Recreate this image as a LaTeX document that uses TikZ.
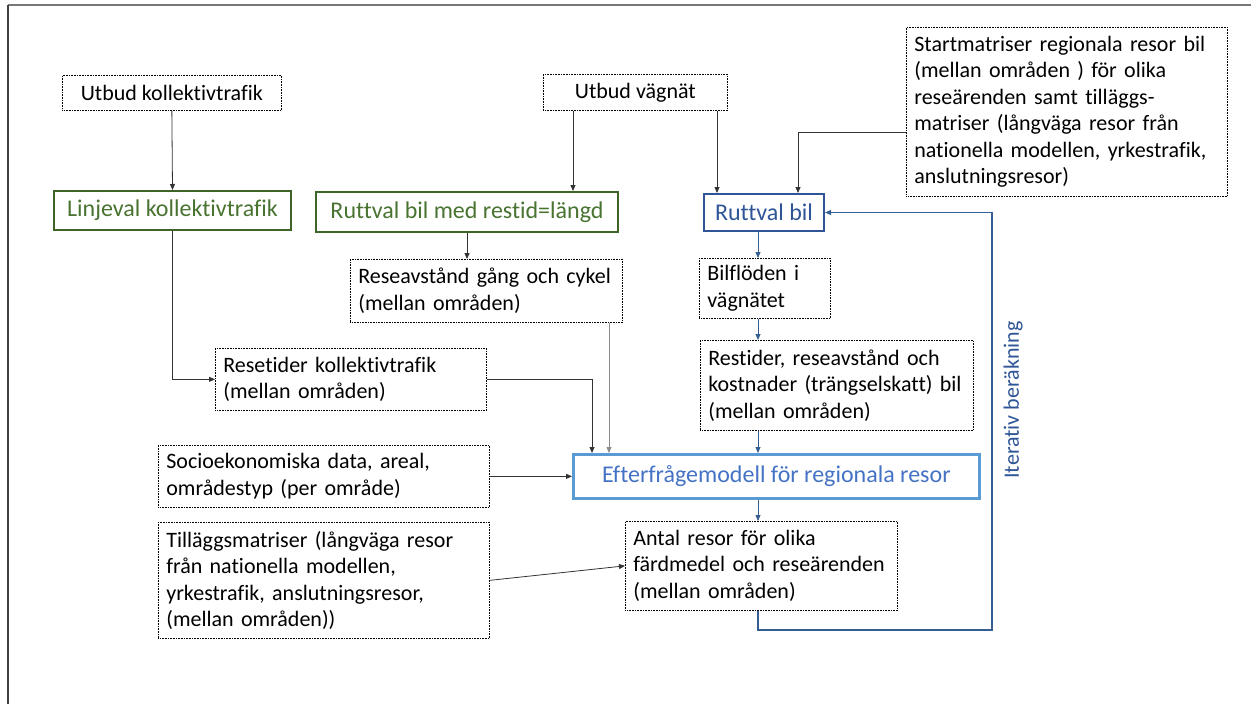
\documentclass[tikz,border=0pt]{standalone}
\usepackage{fontspec}
\setmainfont{Carlito}[Ligatures=CommonOff]
\usetikzlibrary{arrows.meta,calc}
\definecolor{grn}{RGB}{62,100,40}
\definecolor{grntxt}{RGB}{72,115,48}
\definecolor{dblue}{RGB}{47,85,151}
\definecolor{lblue}{RGB}{91,155,213}
\definecolor{mblue}{RGB}{68,114,196}
\definecolor{fbblue}{RGB}{52,94,145}
\definecolor{framegray}{RGB}{120,120,120}
\tikzset{
  dbox/.style={draw=black, dash pattern=on 0.8pt off 0.8pt, line width=0.7pt, anchor=north west,
     inner xsep=8pt, inner ysep=0pt, align=left, font=\fontsize{22}{26.5}\selectfont},
  cbox/.style={dbox, align=center},
  gbox/.style={draw=grn, line width=2pt, text=grntxt, anchor=north west, inner sep=0pt,
     align=center, font=\fontsize{24}{28}\selectfont},
  bbox/.style={gbox, draw=dblue, text=dblue},
  ebox/.style={gbox, draw=lblue, line width=2.6pt, text=mblue},
  conn/.style={draw=black!80, line width=0.8pt, -{Triangle[length=6pt,width=5pt]}},
  gconn/.style={conn, draw=black!45},
  bconn/.style={conn, draw=fbblue},
  fbline/.style={draw=fbblue, line width=1.2pt, -{Triangle[length=6pt,width=5pt]}},
}
\begin{document}
\begin{tikzpicture}[x=1pt,y=-1pt]
\useasboundingbox (0,0) rectangle (1251,704);
% frame
\draw[framegray, line width=1.2pt] (8,5) -- (1251,5);
\draw[black!75, line width=1.2pt] (8,5) -- (8,704);

% guide coordinates
\coordinate (xa) at (573,0);
\coordinate (xb) at (717,0);
\coordinate (xc) at (798,0);
\coordinate (xd) at (592,0);
\coordinate (xe) at (609,0);
\coordinate (xg) at (758,0);
\coordinate (yc) at (0,132);
\coordinate (fb1) at (992,630);

% nodes
\node[cbox, minimum width=219pt, minimum height=35pt] (uk) at (62,75) {Utbud kollektivtrafik};
\node[gbox, minimum width=237pt, minimum height=39pt] (lk) at (53,190) {Linjeval kollektivtrafik};
\node[cbox, minimum width=184pt, minimum height=36pt] (uv) at (543,74) {Utbud vägnät};
\node[gbox, minimum width=302pt, minimum height=40pt] (rbr) at (315,191) {Ruttval bil med restid=längd};
\node[bbox, minimum width=120pt, minimum height=37pt] (rb) at (703,193) {Ruttval bil};
\node[dbox, text width=305pt, minimum height=169pt] (sm) at (906,27)
  {Startmatriser regionala resor bil\\(mellan områden ) för olika\\reseärenden samt tilläggs-\\matriser (långväga resor från\\nationella modellen, yrkestrafik,\\anslutningsresor)};
\node[dbox, text width=256pt, minimum height=63pt] (rgc) at (350,259)
  {Reseavstånd gång och cykel\\(mellan områden)};
\node[dbox, text width=115pt, minimum height=60pt] (bf) at (699,258)
  {Bilflöden i\\vägnätet};
\node[dbox, text width=255pt, minimum height=62pt] (rk) at (215,348)
  {Resetider kollektivtrafik\\(mellan områden)};
\node[dbox, text width=257pt, minimum height=90pt] (rrk) at (700,340)
  {Restider, reseavstånd och\\kostnader (trängselskatt) bil\\(mellan områden)};
\node[dbox, text width=315pt, minimum height=62pt] (se) at (158,445)
  {Socioekonomiska data, areal,\\områdestyp (per område)};
\node[ebox, minimum width=406pt, minimum height=44pt] (ef) at (572,453)
  {Efterfrågemodell för regionala resor};
\node[dbox, text width=315pt, minimum height=116pt] (tm) at (158,522)
  {Tilläggsmatriser (långväga resor\\från nationella modellen,\\yrkestrafik, anslutningsresor,\\(mellan områden))};
\node[dbox, text width=256pt, minimum height=89pt] (ar) at (625,521)
  {Antal resor för olika\\färdmedel och reseärenden\\(mellan områden)};
\node[rotate=90, text=dblue, font=\fontsize{22}{24}\selectfont] (it) at (1013,400) {Iterativ beräkning};

% connectors
\draw[conn] (uk.south) -- (lk.north);
\draw[conn] (lk.south) |- (rk.west);
\draw[conn] (uv.south -| xa) -- (rbr.north -| xa);
\draw[conn] (uv.south -| xb) -- (rb.north -| xb);
\draw[conn] (sm.west |- yc) -| (rb.north -| xc);
\draw[conn] (rbr.south) -- (rbr.south |- rgc.north);
\draw[gconn] (rgc.south -| xe) -- (ef.north -| xe);
\draw[conn] (rk.east) -| (ef.north -| xd);
\draw[conn] (se.east) -- (se.east -| ef.west);
\draw[conn] (tm.east) -- (ar.west);
\draw[bconn] (rb.south -| xg) -- (bf.north -| xg);
\draw[bconn] (bf.south -| xg) -- (rrk.north -| xg);
\draw[bconn] (rrk.south -| xg) -- (ef.north -| xg);
\draw[bconn] (ef.south -| xg) -- (ar.north -| xg);
\draw[fbline] (ar.south -| xg) |- (fb1) |- (rb.east);
\end{tikzpicture}
\end{document}
